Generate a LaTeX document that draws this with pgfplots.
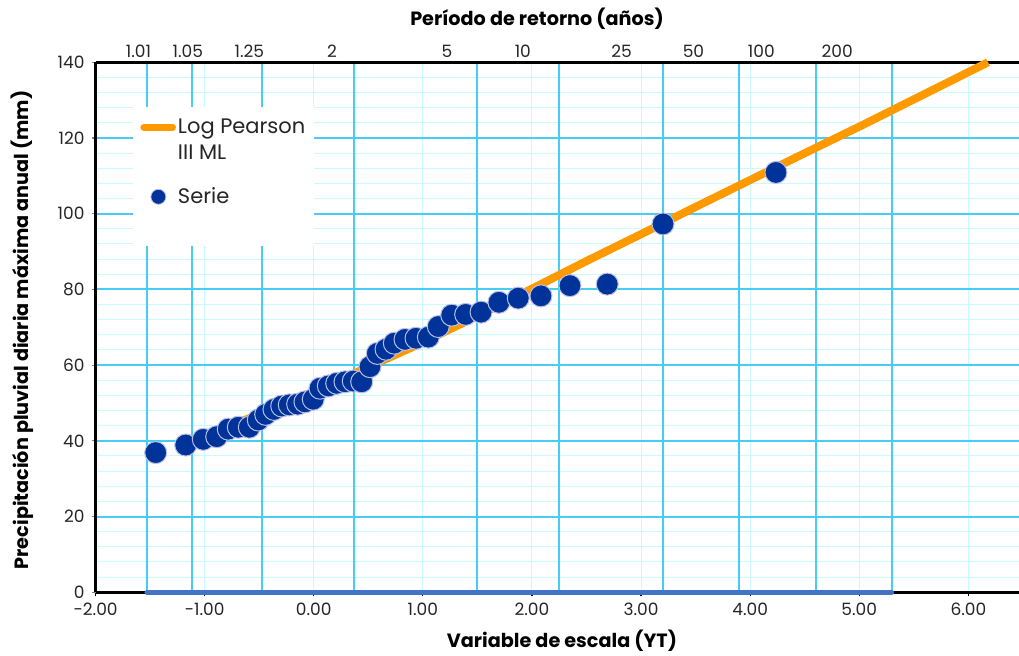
\documentclass[border=0pt]{standalone}
\usepackage{fontspec}
\setmainfont{Poppins}
\usepackage{pgfplots}
\pgfplotsset{compat=1.18}
\definecolor{lporange}{RGB}{255,153,0}
\definecolor{ptblue}{RGB}{0,51,153}
\definecolor{ptedge}{RGB}{185,190,230}
\definecolor{gridmaj}{RGB}{70,205,245}
\definecolor{gridmin}{RGB}{200,250,255}
\definecolor{basblue}{RGB}{68,114,196}
\definecolor{txt}{RGB}{38,38,38}

\pgfplotsset{
  basis/.style={
    scale only axis, width=461.7pt, height=265pt,
    xmin=-2, xmax=6.464, ymin=0, ymax=140,
    at={(0,0)}, anchor=south west,
  },
  gridonly/.style={
    axis line style={draw=none},
    xticklabels={}, yticklabels={},
    major tick length=0pt, minor tick length=0pt,
  },
}

\pgfplotstableread{
x y
-1.449 36.9
-1.174 38.9
-1.013 40.4
-0.890 41.1
-0.784 43.1
-0.692 43.6
-0.591 43.6
-0.509 45.5
-0.441 47.0
-0.365 48.3
-0.294 49.2
-0.225 49.5
-0.148 49.7
-0.081 50.3
-0.005 51.0
0.057 53.9
0.133 54.5
0.210 55.2
0.286 55.6
0.362 55.8
0.439 55.6
0.515 59.6
0.582 63.1
0.662 64.2
0.738 65.8
0.836 66.8
0.937 67.1
1.050 67.4
1.141 70.2
1.264 73.2
1.392 73.4
1.533 74.0
1.697 76.6
1.874 77.7
2.082 78.3
2.348 81.0
2.690 81.4
3.201 97.3
4.236 110.9
}\serie

\pgfplotstableread{
x y
-1.15 40.0
-1.0 41.5
-0.5 47.0
0.0 53.0
0.5 59.5
1.0 66.0
1.5 73.0
2.0 80.2
2.5 87.5
3.0 94.6
3.5 101.8
4.0 108.9
4.5 116.0
5.0 123.0
5.5 130.2
6.0 137.4
6.18 140.0
}\lpiii

\begin{document}
\begin{tikzpicture}
% light grid
\begin{axis}[basis, gridonly,
  xtick={-1,0,1,2,3,4,5,6},
  ytick={4,8,...,140},
  xmajorgrids, ymajorgrids,
  major grid style={draw=gridmin, line width=0.5pt},
]
\end{axis}
% y major grid and return-period grid
\begin{axis}[basis, gridonly,
  xtick={-1.529,-1.113,-0.476,0.3665,1.4999,2.2504,3.1985,3.9019,4.6001,5.2958},
  ytick={20,40,...,120},
  xmajorgrids, ymajorgrids,
  major grid style={draw=gridmaj, line width=1pt},
]
\end{axis}
% top axis (return period labels)
\begin{axis}[basis,
  axis x line*=top, axis y line=none,
  axis line style={black, line width=1.6pt},
  xtick={-1.607,-1.154,-0.591,0.168,1.220,1.916,2.822,3.480,4.102,4.798},
  xticklabels={1.01,1.05,1.25,2,5,10,25,50,100,200},
  xticklabel style={font=\fontsize{8.5pt}{9pt}\selectfont, text=txt, yshift=-1pt},
  major tick length=0pt,
  xlabel={\bfseries Período de retorno (años)},
  xlabel style={at={(axis description cs:0.478,1.083)}, anchor=center, font=\fontsize{9.6pt}{11pt}\selectfont},
]
\end{axis}
% main axis with data
\begin{axis}[basis,
  axis x line*=bottom, axis y line*=left,
  axis line style={black, line width=1.6pt},
  clip=false,
  xtick={-2,-1,0,1,2,3,4,5,6},
  xticklabels={-2.00,-1.00,0.00,1.00,2.00,3.00,4.00,5.00,6.00},
  ytick={0,20,...,140},
  yticklabels={0,20,40,60,80,100,120,140},
  tick label style={font=\fontsize{8.5pt}{9pt}\selectfont, text=txt},
  tick align=outside,
  major tick length=2pt,
  x tick style={black, line width=0.6pt},
  y tick style={gray, line width=0.6pt},
  xlabel={\bfseries Variable de escala (YT)},
  xlabel style={at={(axis description cs:0.505,-0.0906)}, anchor=center, font=\fontsize{9.6pt}{11pt}\selectfont},
  ylabel={\bfseries Precipitación pluvial diaria máxima anual (mm)},
  ylabel style={at={(axis description cs:-0.0797,0.495)}, anchor=center, font=\fontsize{9.6pt}{11pt}\selectfont},
  legend style={at={(0.0405,0.917)}, anchor=north west, draw=none, fill=white,
    font=\fontsize{10.5pt}{13pt}\selectfont, text=txt,
    inner xsep=3.5pt, inner ysep=4pt, row sep=8.5pt,
    cells={align=left}, nodes={inner xsep=1pt}},
  legend cell align=left,
]
\addplot[basblue, line width=2.5pt, line cap=round, forget plot] coordinates {(-1.529,0) (5.296,0)};
\addplot[lporange, line width=4pt, line cap=butt,
  legend image code/.code={\draw[lporange, line width=3.6pt, line cap=round] (1.8pt,6.5pt) -- (16pt,6.5pt);}]
  table[x=x,y=y] {\lpiii};
\addlegendentry{Log Pearson\\III ML}
\addplot[only marks, mark=*, mark size=5.5pt, mark options={fill=ptblue, draw=ptedge, line width=0.5pt},
  legend image code/.code={\fill[ptblue, draw=ptedge, line width=0.4pt] (9pt,0pt) circle (3.75pt);}]
  table[x=x,y=y] {\serie};
\addlegendentry{Serie}
\addlegendimage{empty legend}
\addlegendentry{}
\end{axis}
\pgfresetboundingbox
\path[use as bounding box] (-47.8pt,-31.85pt) rectangle (461.7pt,296.15pt);
\end{tikzpicture}
\end{document}
